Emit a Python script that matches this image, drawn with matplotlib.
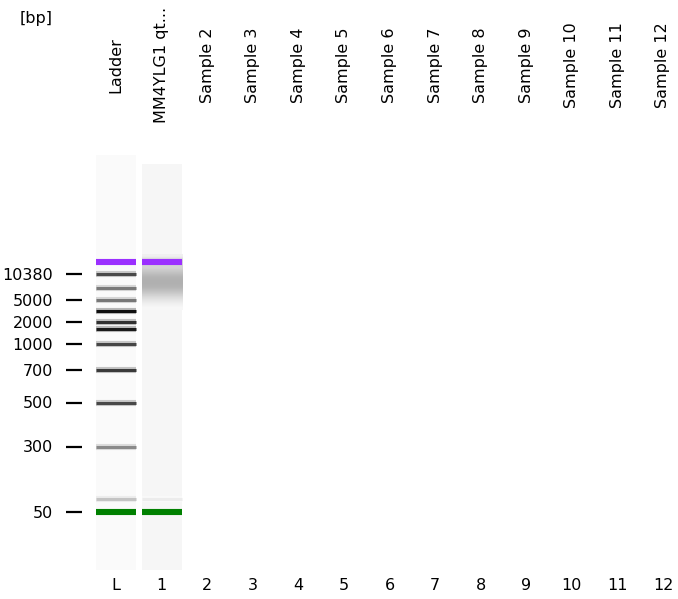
import numpy as np
import matplotlib
matplotlib.use('Agg')
import matplotlib.pyplot as plt

# lane labels (bottom) and sample names (top)
lane_labels = ['L', '1', '2', '3', '4', '5', '6', '7', '8', '9', '10', '11', '12']
sample_names = ['Ladder', 'MM4YLG1 qt...', 'Sample 2', 'Sample 3', 'Sample 4',
                'Sample 5', 'Sample 6', 'Sample 7', 'Sample 8', 'Sample 9',
                'Sample 10', 'Sample 11', 'Sample 12']

# ladder: fragment size [bp], migration (from lane top), band colour
ladder_bp = [17000, 10380, 7000, 5000, 3000, 2000, 1500, 1000, 700, 500, 300, 100, 50]
ladder_mig = [107, 118.5, 132.5, 145, 155.5, 166.5, 173.5, 189, 215, 247.5, 291.5, 343.5, 356.5]
ladder_col = ['#9B30FF', '#4A4A4A', '#7A7A7A', '#787878', '#0F0F0F', '#303030', '#1A1A1A',
              '#464646', '#3A3A3A', '#484848', '#8A8A8A', '#C4C4C4', '#008000']
labeled_bp = [10380, 5000, 2000, 1000, 700, 500, 300, 50]

# sample 1: markers + faint lower band
s1_bp = [17000, 100, 50]
s1_col = ['#9B30FF', '#ECECEC', '#008000']

# sample 1 smear profile (grey level 0-255)
smear_mig = [101, 105, 109, 113, 117, 121, 125, 129, 133, 137, 141, 145, 149, 153]
smear_gray = [240, 212, 212, 210, 196, 182, 176, 176, 182, 196, 214, 228, 240, 247]

# lane backgrounds (only the ladder and sample 1 were run)
bg_lanes = [0, 1]
bg_top = [0, 9]
bg_col = ['#FAFAFA', '#F6F6F6']
lane_len = 415
half_w = 0.44

mig = dict(zip(ladder_bp, ladder_mig))
markers = (17000, 50)

fig = plt.figure(figsize=(6.78, 5.99), dpi=100)
ax = fig.add_axes([82 / 678, 29 / 599, 596 / 678, 415 / 599])

ax.bar(bg_lanes, [lane_len - t for t in bg_top], bottom=bg_top, width=2 * half_w,
       color=bg_col, zorder=1)

# smear in lane 1
prof = np.array(smear_gray, dtype=float).reshape(-1, 1)
step = smear_mig[1] - smear_mig[0]
ax.imshow(prof, cmap='gray', vmin=0, vmax=255, aspect='auto', interpolation='bilinear',
          extent=[1 - half_w, 1 + half_w, smear_mig[-1] + step / 2, smear_mig[0] - step / 2],
          zorder=2)

def draw_band(lane, bp, col):
    y = mig[bp]
    if bp in markers:
        ax.hlines(y, lane - half_w, lane + half_w, colors=col, linewidth=4.4, zorder=4)
    else:
        halo = tuple(0.7 + 0.3 * c for c in matplotlib.colors.to_rgb(col))
        ax.hlines(y, lane - half_w, lane + half_w, colors=[halo], linewidth=4.4, zorder=3)
        ax.hlines(y, lane - half_w, lane + half_w, colors=col, linewidth=2.2, zorder=4)

for bp, col in zip(ladder_bp, ladder_col):
    draw_band(0, bp, col)
for bp, col in zip(s1_bp, s1_col):
    draw_band(1, bp, col)

ax.set_xlim(-0.746, 12.33)
ax.set_ylim(lane_len, 0)

ax.set_yticks([mig[b] for b in labeled_bp])
ax.set_yticklabels([str(b) for b in labeled_bp])
ax.tick_params(axis='y', length=11.5, width=1.6, pad=9.4, labelsize=11.5, direction='out')

ax.set_xticks(range(len(lane_labels)))
ax.set_xticklabels(lane_labels)
ax.tick_params(axis='x', length=0, pad=6, labelsize=11.5)

for i, name in enumerate(sample_names):
    ax.text(i, -90, name, rotation=90, ha='center', va='center', fontsize=11.5, clip_on=False)

for s in ax.spines.values():
    s.set_visible(False)

fig.text(36 / 678, 1 - 19 / 599, '[bp]', ha='center', va='center', fontsize=11.5)

fig.savefig('out.png', dpi=100)
